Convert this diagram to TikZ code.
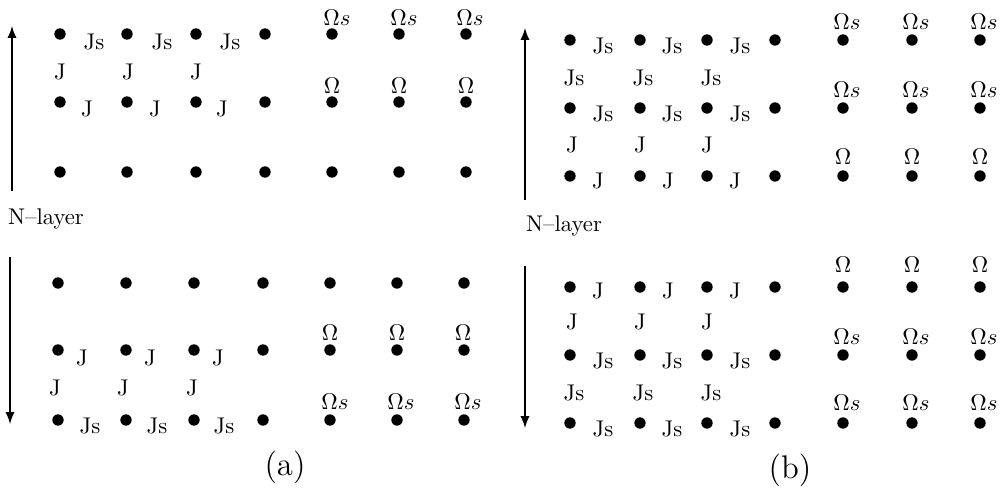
\documentclass[tikz,border=0pt]{standalone}
\begin{document}
\begin{tikzpicture}[>=latex,x=0.44pt,y=-0.44pt,
    site/.style={circle,fill,inner sep=0pt,minimum size=5pt},
    lab/.style={inner sep=0pt}]
  \useasboundingbox (0,0) rectangle (1001,493);
  % (a) upper block
  \foreach \x [count=\i] in {60,127,196,265,332,399,466}
    \foreach \y [count=\j] in {34,102,172}
      \node[site] (au\i\j) at (\x,\y) {};
  \foreach \x [count=\i] in {94,162,230}
    \node[lab] (aujs\i) at (\x,42) {Js};
  \foreach \x [count=\i] in {60,128,196}
    \node[lab] (auj\i) at (\x,72) {J};
  \foreach \x [count=\i] in {87,155,222}
    \node[lab] (aujh\i) at (\x,109) {J};
  \foreach \x [count=\i] in {337,404,470}
    \node[lab] (auos\i) at (\x,18) {$\Omega s$};
  \foreach \x [count=\i] in {332,399,466}
    \node[lab] (auo\i) at (\x,86) {$\Omega$};
  \coordinate (aus) at (12,191);
  \coordinate (aue) at (12,26);
  \draw[->,thick] (aus) -- (aue);
  \node[lab] (anl) at (46,219) {N--layer};
  % (a) lower block
  \foreach \x [count=\i] in {58,126,194,263,330,397,464}
    \foreach \y [count=\j] in {283,350,420}
      \node[site] (al\i\j) at (\x,\y) {};
  \foreach \x [count=\i] in {82,150,218}
    \node[lab] (alj\i) at (\x,358) {J};
  \foreach \x [count=\i] in {55,123,192}
    \node[lab] (aljv\i) at (\x,388) {J};
  \foreach \x [count=\i] in {90,157,224}
    \node[lab] (aljs\i) at (\x,426) {Js};
  \foreach \x [count=\i] in {330,397,463}
    \node[lab] (alo\i) at (\x,333) {$\Omega$};
  \foreach \x [count=\i] in {335,401,468}
    \node[lab] (alos\i) at (\x,402) {$\Omega s$};
  \coordinate (als) at (10,257);
  \coordinate (ale) at (10,424);
  \draw[->,thick] (als) -- (ale);
  \node[lab,font=\Large] (acap) at (285,467) {(a)};
  % (b) upper block
  \foreach \x [count=\i] in {570,640,707,775,843,912,980}
    \foreach \y [count=\j] in {40,108,176}
      \node[site] (bu\i\j) at (\x,\y) {};
  \foreach \x [count=\i] in {603,672,740}
    \node[lab] (bujs\i) at (\x,46) {Js};
  \foreach \x [count=\i] in {574,643,711}
    \node[lab] (bujsv\i) at (\x,78) {Js};
  \foreach \x [count=\i] in {603,672,740}
    \node[lab] (bujs2\i) at (\x,114) {Js};
  \foreach \x [count=\i] in {572,640,707}
    \node[lab] (bujv\i) at (\x,145) {J};
  \foreach \x [count=\i] in {598,668,735}
    \node[lab] (buj\i) at (\x,181) {J};
  \foreach \x [count=\i] in {847,916,984}
    \node[lab] (buos\i) at (\x,22) {$\Omega s$};
  \foreach \x [count=\i] in {847,916,984}
    \node[lab] (buos2\i) at (\x,90) {$\Omega s$};
  \foreach \x [count=\i] in {843,912,980}
    \node[lab] (buo\i) at (\x,157) {$\Omega$};
  \coordinate (bus) at (525,200);
  \coordinate (bue) at (525,28);
  \draw[->,thick] (bus) -- (bue);
  \node[lab] (bnl) at (564,226) {N--layer};
  % (b) lower block
  \foreach \x [count=\i] in {570,640,707,775,843,912,980}
    \foreach \y [count=\j] in {287,355,423}
      \node[site] (bl\i\j) at (\x,\y) {};
  \foreach \x [count=\i] in {598,668,735}
    \node[lab] (blj\i) at (\x,291) {J};
  \foreach \x [count=\i] in {572,640,707}
    \node[lab] (bljv\i) at (\x,322) {J};
  \foreach \x [count=\i] in {603,672,740}
    \node[lab] (bljs\i) at (\x,361) {Js};
  \foreach \x [count=\i] in {574,643,711}
    \node[lab] (bljsv\i) at (\x,393) {Js};
  \foreach \x [count=\i] in {603,672,740}
    \node[lab] (bljs2\i) at (\x,429) {Js};
  \foreach \x [count=\i] in {843,912,980}
    \node[lab] (blo\i) at (\x,265) {$\Omega$};
  \foreach \x [count=\i] in {847,916,984}
    \node[lab] (blos\i) at (\x,337) {$\Omega s$};
  \foreach \x [count=\i] in {847,916,984}
    \node[lab] (blos2\i) at (\x,403) {$\Omega s$};
  \coordinate (bls) at (525,266);
  \coordinate (ble) at (525,428);
  \draw[->,thick] (bls) -- (ble);
  \node[lab,font=\Large] (bcap) at (790,470) {(b)};
\end{tikzpicture}
\end{document}
